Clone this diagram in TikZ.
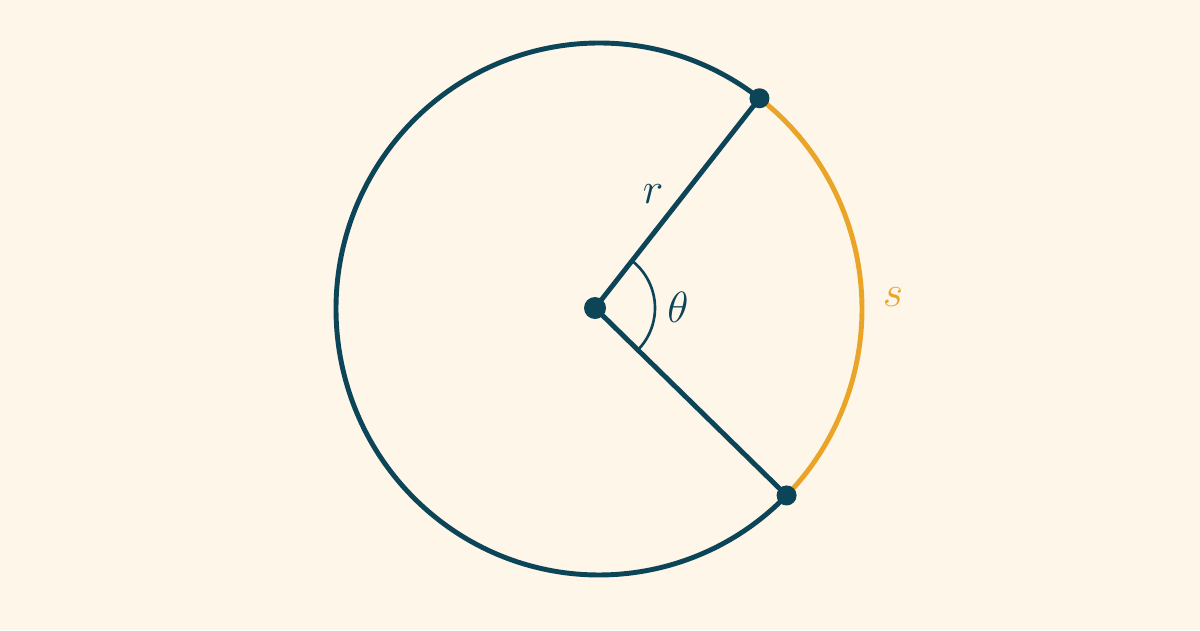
\documentclass[tikz,border=0pt]{standalone}
\usepackage{tikz}
\usetikzlibrary{calc}
\definecolor{bg}{RGB}{253,246,233}
\definecolor{ink}{RGB}{12,68,88}
\definecolor{arcc}{RGB}{234,164,40}
\tikzset{
  main/.style={draw=ink, line width=2.8pt},
  hl/.style={draw=arcc, line width=2.8pt},
  pt/.style={fill=ink},
  lbl/.style={font=\fontsize{28}{32}\selectfont, inner sep=0pt}
}
\begin{document}
\begin{tikzpicture}
\fill[bg] (0,0) rectangle (24,12.6);
\useasboundingbox (0,0) rectangle (24,12.6);
\coordinate (C) at (11.98,6.42);
\coordinate (O) at (11.90,6.44);
\coordinate (A) at ($(C)+({5.26*cos(52.4)},{5.32*sin(52.4)})$);
\coordinate (B) at ($(C)+({5.26*cos(-44.5)},{5.32*sin(-44.5)})$);
\draw[main] (A) arc[start angle=52.4, end angle=315.5, x radius=5.26, y radius=5.32];
\draw[hl] (B) arc[start angle=-44.5, end angle=52.4, x radius=5.26, y radius=5.32];
\draw[main] (O) -- (A);
\draw[main] (O) -- (B);
\draw[draw=ink, line width=1.5pt] ($(O)+(52.3:1.2)$) arc[start angle=52.3, end angle=-44, radius=1.2];
\fill[pt] (O) circle (0.22);
\fill[pt] (A) circle (0.2);
\fill[pt] (B) circle (0.2);
\node[lbl, text=ink] (r) at (13.06,8.72) {$r$};
\node[lbl, text=ink] (th) at (13.56,6.46) {$\theta$};
\node[lbl, text=arcc] (s) at (17.86,6.66) {$s$};
\end{tikzpicture}
\end{document}
